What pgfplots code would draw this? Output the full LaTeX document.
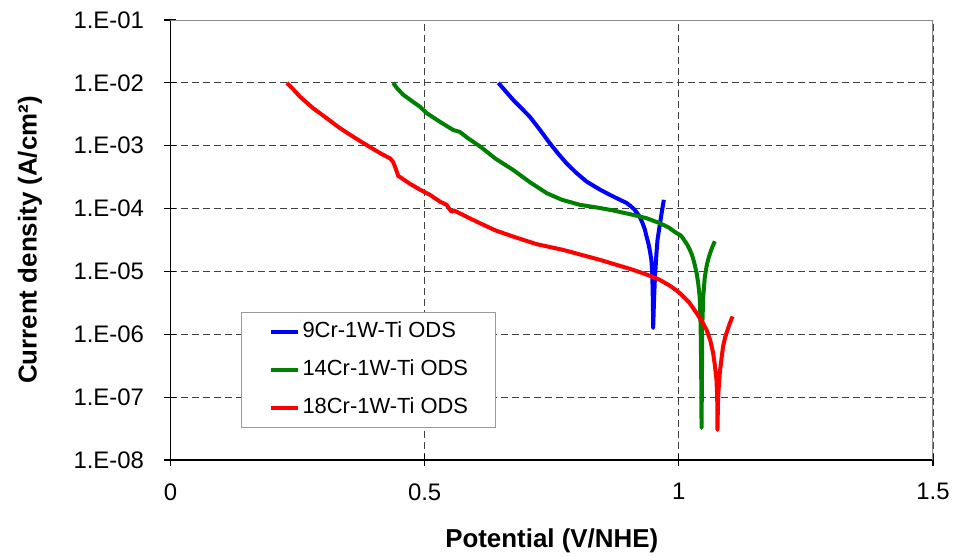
\documentclass[border=0pt]{standalone}
\usepackage{pgfplots}
\pgfplotsset{compat=1.18}
\usepackage{fontspec}
\setmainfont{Liberation Sans}
\definecolor{cblue}{RGB}{0,0,255}
\definecolor{cgreen}{RGB}{0,128,0}
\definecolor{cred}{RGB}{255,0,0}
\begin{document}
\begin{tikzpicture}
\useasboundingbox (-170.5bp,-97bp) rectangle (786.5bp,460bp);
\begin{axis}[
  scale only axis, width=762.5bp, height=440bp,
  xmin=0, xmax=1.5, ymin=1e-8, ymax=1e-1, ymode=log,
  axis x line*=bottom, axis y line*=left,
  axis line style={black, line width=1.2bp, -},
  xtick={0,0.5,1,1.5}, xticklabels={0,0.5,1,1.5},
  ytick={1e-8,1e-7,1e-6,1e-5,1e-4,1e-3,1e-2,1e-1},
  yticklabels={1.E-08,1.E-07,1.E-06,1.E-05,1.E-04,1.E-03,1.E-02,1.E-01},
  yminorticks=false,
  xmajorgrids, ymajorgrids,
  major grid style={dash pattern=on 7bp off 4bp, black!75, line width=1bp},
  tick style={black, line width=1.2bp},
  tick align=center, major tick length=12bp,
  ticklabel style={font=\fontsize{24}{28}\selectfont},
  yticklabel style={xshift=-17bp},
  xticklabel style={yshift=-14bp},
  xlabel={Potential (V/NHE)},
  ylabel={Current density (A/cm²)},
  xlabel style={at={(axis description cs:0.5,-0.1841)}, anchor=center, font=\bfseries\fontsize{26}{30}\selectfont},
  ylabel style={at={(axis description cs:-0.1843,0.5)}, anchor=center, font=\bfseries\fontsize{26}{30}\selectfont},
  legend style={at={(rel axis cs:0.0925,0.3364)}, anchor=north west, draw=gray!80, line width=1bp, fill=white,
    font=\fontsize{22}{26}\selectfont, inner xsep=27bp, inner ysep=9.3bp, row sep=16.7bp,
    nodes={inner xsep=0bp, inner ysep=0bp, text height=16bp, text depth=5bp},
    /tikz/every odd column/.style={column sep=3bp}},
  legend cell align=left,
  legend image code/.code={\draw[#1] (0bp,0bp) -- (27bp,0bp);},
]
\addplot[cblue, line width=4bp, line join=round] coordinates {
(0.645,1.00e-2) (0.660,7.24e-3) (0.674,5.37e-3) (0.690,3.98e-3) (0.707,2.88e-3)
(0.727,1.78e-3) (0.746,1.10e-3) (0.762,7.59e-4) (0.779,5.25e-4) (0.798,3.72e-4)
(0.8185,2.69e-4) (0.845,2.00e-4) (0.864,1.66e-4) (0.884,1.38e-4) (0.897,1.23e-4)
(0.905,1.10e-4) (0.912,9.77e-5) (0.918,8.51e-5) (0.923,7.41e-5) (0.928,6.03e-5)
(0.933,4.68e-5) (0.9365,3.59e-5) (0.940,2.82e-5) (0.943,2.14e-5) (0.946,1.51e-5)
(0.9475,1.00e-5) (0.948,7.41e-6) (0.949,3.16e-6)
(0.9495,1.26e-6) (0.951,3.16e-6) (0.9528,7.41e-6) (0.956,1.95e-5) (0.958,3.16e-5)
(0.961,4.57e-5) (0.966,8.32e-5) (0.9705,1.38e-4)
};
\addlegendentry{9Cr-1W-Ti ODS}
\addplot[cgreen, line width=4bp, line join=round] coordinates {
(0.438,1.00e-2) (0.445,8.32e-3) (0.458,6.46e-3) (0.475,5.13e-3) (0.4907,4.17e-3)
(0.5038,3.31e-3) (0.530,2.40e-3) (0.556,1.78e-3) (0.569,1.66e-3) (0.585,1.32e-3)
(0.6087,9.77e-4) (0.640,6.17e-4) (0.674,4.12e-4) (0.707,2.63e-4) (0.740,1.76e-4)
(0.770,1.38e-4) (0.805,1.15e-4) (0.845,1.02e-4) (0.871,9.33e-5) (0.910,7.94e-5)
(0.9365,7.03e-5) (0.9626,5.85e-5) (0.980,5.01e-5) (0.9955,4.07e-5) (1.002,3.82e-5)
(1.007,3.47e-5) (1.012,3.02e-5) (1.017,2.63e-5) (1.0217,2.20e-5) (1.026,1.82e-5)
(1.030,1.41e-5) (1.035,9.40e-6) (1.038,6.61e-6) (1.041,3.98e-6) (1.042,2.51e-6)
(1.043,1.17e-6) (1.044,2.51e-7) (1.0447,3.24e-8) (1.0455,2.51e-7) (1.046,1.26e-6)
(1.048,3.98e-6) (1.051,7.94e-6) (1.0545,1.20e-5) (1.058,1.58e-5) (1.062,2.00e-5)
(1.066,2.45e-5) (1.0708,3.02e-5)
};
\addlegendentry{14Cr-1W-Ti ODS}
\addplot[cred, line width=4bp, line join=round] coordinates {
(0.229,1.00e-2) (0.240,8.13e-3) (0.2547,6.03e-3) (0.280,3.98e-3) (0.307,2.75e-3)
(0.333,1.91e-3) (0.360,1.38e-3) (0.392,9.55e-4) (0.415,7.41e-4) (0.4317,6.31e-4)
(0.438,5.50e-4) (0.4415,4.68e-4) (0.448,3.31e-4) (0.470,2.51e-4) (0.4907,2.00e-4)
(0.510,1.66e-4) (0.530,1.29e-4) (0.543,1.15e-4) (0.548,1.00e-4) (0.553,8.91e-5) (0.558,9.33e-5)
(0.565,8.71e-5) (0.585,7.24e-5) (0.6087,5.85e-5) (0.640,4.47e-5) (0.674,3.59e-5)
(0.720,2.72e-5) (0.7725,2.20e-5) (0.8446,1.53e-5)
(0.910,1.06e-5) (0.940,8.71e-6) (0.9626,7.35e-6) (0.985,5.75e-6) (1.002,4.52e-6)
(1.020,3.24e-6) (1.035,2.17e-6) (1.046,1.58e-6) (1.0545,1.18e-6) (1.062,7.94e-7)
(1.0675,5.01e-7) (1.071,3.16e-7) (1.074,1.91e-7) (1.0755,1.00e-7) (1.076,3.02e-8)
(1.077,8.0e-8) (1.078,1.26e-7) (1.0806,2.42e-7) (1.084,4.17e-7)
(1.087,6.40e-7) (1.091,8.91e-7) (1.095,1.12e-6) (1.100,1.48e-6) (1.1056,1.92e-6)
};
\addlegendentry{18Cr-1W-Ti ODS}
\draw[gray!90, line width=1.2bp] (rel axis cs:0,1) -- (rel axis cs:1,1) -- (rel axis cs:1,0);
\end{axis}
\end{tikzpicture}
\end{document}
